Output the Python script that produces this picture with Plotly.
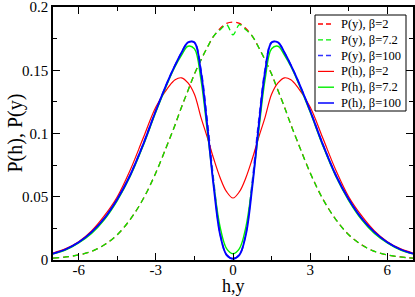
import plotly.graph_objects as go

# abscissa h (or y)
h = [-7, -6.5, -6, -5.5, -5, -4.5, -4, -3.5, -3, -2.5, -2.25, -2, -1.75, -1.5, -1.25, -1, -0.75, -0.5, -0.25, 0,
     0.25, 0.5, 0.75, 1, 1.25, 1.5, 1.75, 2, 2.25, 2.5, 3, 3.5, 4, 4.5, 5, 5.5, 6, 6.5, 7]

# P(y) curves (dashed)
py_b2 = [0.0015, 0.0024, 0.0040, 0.0068, 0.012, 0.020, 0.032, 0.048, 0.069, 0.094, 0.107, 0.121, 0.134, 0.147, 0.158, 0.168, 0.177, 0.183, 0.187, 0.188,
         0.187, 0.183, 0.177, 0.168, 0.158, 0.147, 0.134, 0.121, 0.107, 0.094, 0.069, 0.048, 0.032, 0.020, 0.012, 0.0068, 0.0040, 0.0024, 0.0015]
py_b72 = [0.0015, 0.0024, 0.0040, 0.0068, 0.012, 0.020, 0.032, 0.048, 0.069, 0.094, 0.107, 0.121, 0.134, 0.147, 0.158, 0.168, 0.177, 0.182, 0.186, 0.178,
          0.186, 0.182, 0.177, 0.168, 0.158, 0.147, 0.134, 0.121, 0.107, 0.094, 0.069, 0.048, 0.032, 0.020, 0.012, 0.0068, 0.0040, 0.0024, 0.0015]
py_b100 = [0.005, 0.0085, 0.014, 0.022, 0.033, 0.048, 0.067, 0.091, 0.118, 0.143, 0.154, 0.164, 0.172, 0.172, 0.151, 0.110, 0.062, 0.021, 0.004, 0.001,
           0.004, 0.021, 0.062, 0.110, 0.151, 0.172, 0.172, 0.164, 0.154, 0.143, 0.118, 0.091, 0.067, 0.048, 0.033, 0.022, 0.014, 0.0085, 0.005]

# P(h) curves (solid)
ph_b2 = [0.0055, 0.009, 0.0145, 0.023, 0.035, 0.050, 0.071, 0.096, 0.121, 0.137, 0.1425, 0.144, 0.140, 0.131, 0.113, 0.097, 0.080, 0.065, 0.054, 0.049,
         0.054, 0.065, 0.080, 0.097, 0.113, 0.131, 0.140, 0.144, 0.1425, 0.137, 0.121, 0.096, 0.071, 0.050, 0.035, 0.023, 0.0145, 0.009, 0.0055]
ph_b72 = [0.0048, 0.008, 0.0135, 0.021, 0.032, 0.047, 0.066, 0.090, 0.117, 0.142, 0.153, 0.162, 0.169, 0.167, 0.143, 0.102, 0.060, 0.026, 0.009, 0.005,
          0.009, 0.026, 0.060, 0.102, 0.143, 0.167, 0.169, 0.162, 0.153, 0.142, 0.117, 0.090, 0.066, 0.047, 0.032, 0.021, 0.0135, 0.008, 0.0048]
ph_b100 = [0.005, 0.0085, 0.014, 0.022, 0.033, 0.048, 0.067, 0.091, 0.118, 0.143, 0.154, 0.164, 0.172, 0.172, 0.149, 0.106, 0.058, 0.020, 0.004, 0.001,
           0.004, 0.020, 0.058, 0.106, 0.149, 0.172, 0.172, 0.164, 0.154, 0.143, 0.118, 0.091, 0.067, 0.048, 0.033, 0.022, 0.014, 0.0085, 0.005]

x_ticks = [-6, -3, 0, 3, 6]
x_tick_labels = ["-6", "-3", "0", "3", "6"]
y_ticks = [0, 0.05, 0.1, 0.15, 0.2]
y_tick_labels = ["0", "0.05", "0.1", "0.15", "0.2"]

series = [
    ("P(y), β=2", py_b2, "#ff0000", "6px,4px", 1.3),
    ("P(y), β=7.2", py_b72, "#00ee00", "6px,4px", 1.3),
    ("P(y), β=100", py_b100, "#3333ff", "6px,4px", 1.6),
    ("P(h), β=2", ph_b2, "#ff0000", "solid", 1.2),
    ("P(h), β=7.2", ph_b72, "#00ee00", "solid", 1.4),
    ("P(h), β=100", ph_b100, "#0000ff", "solid", 1.9),
]

W, H = 415, 297
ML, MR, MT, MB = 53, 2, 7, 37
PW, PH = W - ML - MR, H - MT - MB


def px_x(px):
    return (px - ML) / PW


def px_y(py):
    return (H - MB - py) / PH


fig = go.Figure()
for name, vals, col, dash, w in series:
    fig.add_trace(go.Scatter(x=h, y=vals, mode="lines", name=name, showlegend=False,
                             line=dict(color=col, dash=dash, width=w, shape="spline", smoothing=1.0)))

font = "Liberation Serif"
axis_common = dict(showline=True, linecolor="black", linewidth=1.5, mirror="ticks",
                   ticks="inside", ticklen=7, tickwidth=1.2, tickcolor="black",
                   showgrid=False, zeroline=False, automargin=False,
                   ticklabeloverflow="allow",
                   tickfont=dict(family=font, size=15, color="black"))

# hand-built legend box (matches the compact reference legend)
shapes = [dict(type="rect", xref="paper", yref="paper", layer="above",
               x0=px_x(315), x1=px_x(406), y0=px_y(15), y1=px_y(111),
               fillcolor="white", line=dict(color="black", width=1))]
annotations = []
for i, (name, vals, col, dash, w) in enumerate(series):
    yy = 24 + i * 15.8
    shapes.append(dict(type="line", xref="paper", yref="paper", layer="above",
                       x0=px_x(318), x1=px_x(334), y0=px_y(yy), y1=px_y(yy),
                       line=dict(color=col, width=min(w, 1.5), dash="5px,3px" if dash != "solid" else "solid")))
    annotations.append(dict(text=name, xref="paper", yref="paper", x=px_x(339), y=px_y(yy),
                            xanchor="left", yanchor="middle", showarrow=False,
                            font=dict(family=font, size=12.5, color="black")))

annotations += [
    dict(text="h,y", xref="paper", yref="paper", x=0.5, y=0, yshift=-37, borderpad=0,
         xanchor="center", yanchor="bottom", showarrow=False,
         font=dict(family=font, size=18, color="black")),
    dict(text="P(h), P(y)", xref="paper", yref="paper", x=0, y=0.5, xshift=-38,
         xanchor="center", yanchor="middle", showarrow=False, textangle=-90,
         font=dict(family=font, size=20, color="black")),
]

fig.update_layout(
    width=W, height=H,
    margin=dict(l=ML, r=MR, t=MT, b=MB, autoexpand=False),
    paper_bgcolor="white", plot_bgcolor="white",
    font=dict(family=font, color="black"),
    xaxis=dict(range=[-7, 7], tickvals=x_ticks, ticktext=x_tick_labels, ticklabelstandoff=-5,
               minor=dict(ticks="inside", ticklen=4, tickwidth=1, tickcolor="black", dtick=1.5, tick0=0),
               **axis_common),
    yaxis=dict(range=[0, 0.2], tickvals=y_ticks, ticktext=y_tick_labels,
               minor=dict(ticks="inside", ticklen=4, tickwidth=1, tickcolor="black", dtick=0.025, tick0=0),
               **axis_common),
    showlegend=False,
    shapes=shapes,
    annotations=annotations,
)

fig.write_html("out.html", config={"displayModeBar": False},
               post_script="document.body.style.margin='0';document.body.style.padding='0';")
